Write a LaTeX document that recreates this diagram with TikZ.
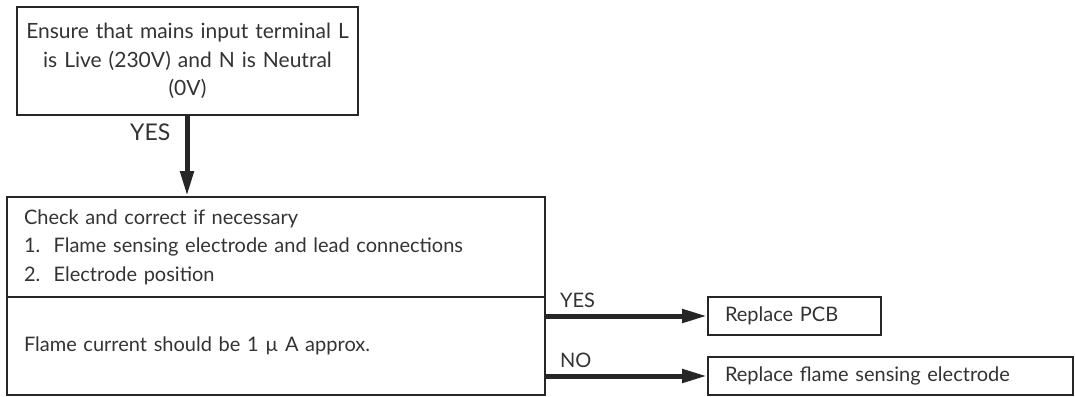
\documentclass[tikz,border=0pt]{standalone}
\usepackage{fontspec}
\setmainfont{Lato}
\usetikzlibrary{arrows.meta}
\definecolor{txt}{gray}{0.2}
\tikzset{
  box/.style={draw=black!85, line width=2pt, rectangle, inner xsep=17pt, inner ysep=0pt,
              font=\fontsize{20}{28.5}\selectfont, text=txt},
  arr/.style={draw=black!85, line width=5pt, -{Triangle[length=25pt,width=13pt]}},
  lbl/.style={font=\fontsize{20}{24}\selectfont, text=txt, inner sep=0pt},
}
\begin{document}
\begin{tikzpicture}[x=1pt,y=-1pt]
\useasboundingbox (0,0) rectangle (1075,396);
\node[box, font=\fontsize{21}{28.5}\selectfont, inner xsep=4pt, minimum width=341pt, minimum height=108pt, align=center, text width=331pt] (mains) at (187.5,61)
  {Ensure that mains input terminal L\\ is Live (230V) and N is Neutral\\ (0V)};
\node[box, minimum width=538pt, minimum height=100pt, align=left, text width=504pt] (check) at (276,247)
  {Check and correct if necessary\\ 1.\ \ Flame sensing electrode and lead connections\\ 2.\ \ Electrode position};
\node[box, minimum width=538pt, minimum height=98pt, align=left, text width=504pt] (flame) at (276,346)
  {Flame current should be 1 \textmu\ A approx.};
\node[box, minimum width=173pt, minimum height=38pt, align=left, text width=139pt] (pcb) at (794.5,316)
  {Replace PCB};
\node[box, minimum width=365pt, minimum height=38pt, align=left, text width=331pt] (elec) at (890.5,376)
  {Replace flame sensing electrode};
\draw[arr] (mains.south -| 187,0) -- (check.north -| 187,0);
\draw[arr] (flame.east |- pcb.west) -- (pcb.west);
\draw[arr] (flame.east |- elec.west) -- (elec.west);
\node[lbl, font=\fontsize{23}{26}\selectfont, anchor=west] (yes1) at (130,132) {YES};
\node[lbl, anchor=west] (yes2) at (560,300) {YES};
\node[lbl, anchor=west] (no) at (560,360) {NO};
\end{tikzpicture}
\end{document}
